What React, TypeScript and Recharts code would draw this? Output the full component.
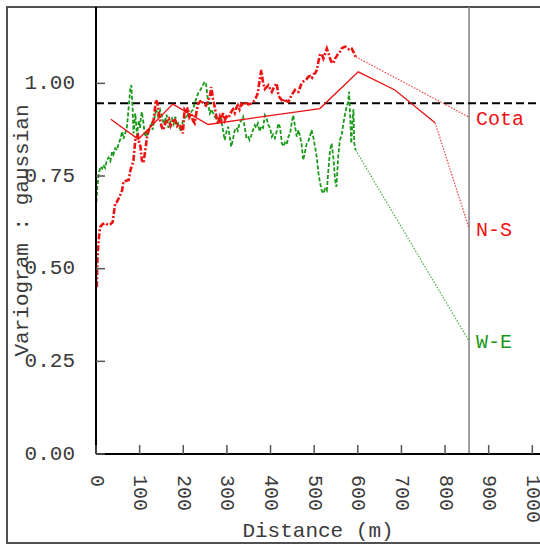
import React from "react";
import { LineChart, Line, XAxis, YAxis, ReferenceLine, Label } from "recharts";

// Experimental variogram of elevation ("Cota"): [distance m, gamma]
const cotaExperimental: [number, number][] = [
  [2, 0.45], [3, 0.52], [5, 0.56], [8, 0.6], [10, 0.613], [15, 0.62], [21, 0.623], [27, 0.618],
  [33, 0.62], [38, 0.625], [44, 0.677], [48, 0.68], [52, 0.69], [56, 0.7], [60, 0.712], [63, 0.735],
  [69, 0.737], [75, 0.739], [79, 0.766], [83, 0.78], [86, 0.793], [90, 0.847], [93, 0.855], [96, 0.86],
  [99, 0.84], [102, 0.829], [105, 0.793], [109, 0.785], [113, 0.82], [117, 0.856], [120, 0.87], [124, 0.883],
  [128, 0.89], [132, 0.9], [135, 0.93], [137, 0.955], [141, 0.947], [144, 0.92], [147, 0.9], [150, 0.885],
  [154, 0.874], [159, 0.893], [163, 0.9], [167, 0.905], [171, 0.885], [174, 0.892], [178, 0.905], [182, 0.9],
  [186, 0.885], [190, 0.89], [195, 0.882], [199, 0.865], [203, 0.928], [207, 0.92], [210, 0.935], [214, 0.91],
  [218, 0.92], [222, 0.9], [226, 0.893], [230, 0.92], [234, 0.946], [238, 0.95], [241, 0.955], [246, 0.945],
  [252, 0.94], [256, 0.95], [261, 0.964], [264, 0.99], [268, 0.96], [272, 0.937], [276, 0.91], [280, 0.892],
  [284, 0.91], [287, 0.9], [291, 0.92], [295, 0.9], [299, 0.91], [303, 0.906], [307, 0.915], [310, 0.923],
  [314, 0.93], [318, 0.92], [322, 0.935], [325, 0.941], [329, 0.93], [333, 0.945], [337, 0.94], [341, 0.946],
  [345, 0.95], [349, 0.943], [356, 0.946], [360, 0.95], [364, 0.955], [368, 0.965], [371, 0.974], [375, 1.009],
  [379, 1.036], [383, 1.0], [387, 0.985], [391, 0.99], [395, 0.995], [399, 0.985], [403, 0.977], [408, 0.99],
  [414, 1.0], [418, 0.968], [422, 0.96], [426, 0.955], [430, 0.95], [433, 0.958], [437, 0.952], [441, 0.95],
  [445, 0.96], [448, 0.968], [452, 0.975], [456, 0.982], [460, 0.978], [464, 0.977], [468, 0.99], [471, 1.0],
  [475, 1.005], [479, 1.009], [483, 1.012], [487, 1.018], [491, 1.02], [495, 1.015], [499, 1.025], [502, 1.027],
  [506, 1.036], [510, 1.06], [513, 1.076], [517, 1.08], [521, 1.067], [525, 1.08], [529, 1.094], [533, 1.08],
  [537, 1.065], [540, 1.058], [544, 1.054], [548, 1.067], [551, 1.072], [555, 1.08], [559, 1.085], [563, 1.094],
  [567, 1.097], [571, 1.099], [575, 1.095], [579, 1.092], [583, 1.096], [586, 1.094], [590, 1.085], [595, 1.072],
];
const cotaTail: [number, number][] = [[595, 1.072], [855, 0.909]];

// Directional variogram N-S
const nsExperimental: [number, number][] = [
  [34, 0.903], [97, 0.849], [176, 0.944], [257, 0.889], [513, 0.932], [601, 1.031], [685, 0.982], [777, 0.894],
];
const nsTail: [number, number][] = [[777, 0.894], [855, 0.609]];

// Directional variogram W-E
const weExperimental: [number, number][] = [
  [1, 0.68], [3, 0.72], [6, 0.752], [10, 0.775], [14, 0.77], [17, 0.78], [21, 0.772], [25, 0.793],
  [29, 0.8], [33, 0.79], [37, 0.815], [40, 0.808], [44, 0.825], [48, 0.82], [52, 0.838], [56, 0.85],
  [60, 0.87], [63, 0.85], [67, 0.865], [71, 0.883], [75, 0.937], [79, 0.99], [81, 0.995], [84, 0.93],
  [86, 0.865], [88, 0.89], [90, 0.919], [92, 0.89], [94, 0.86], [96, 0.88], [98, 0.9], [101, 0.88],
  [103, 0.91], [105, 0.923], [108, 0.9], [111, 0.87], [113, 0.856], [116, 0.87], [118, 0.86], [121, 0.875],
  [124, 0.883], [127, 0.89], [130, 0.875], [133, 0.9], [136, 0.919], [139, 0.925], [142, 0.912], [145, 0.92],
  [147, 0.928], [151, 0.91], [155, 0.892], [158, 0.9], [162, 0.915], [166, 0.88], [170, 0.895], [174, 0.905],
  [178, 0.89], [182, 0.91], [185, 0.885], [188, 0.892], [192, 0.878], [195, 0.87], [199, 0.9], [203, 0.91],
  [207, 0.905], [211, 0.919], [215, 0.91], [219, 0.925], [222, 0.928], [226, 0.946], [230, 0.96], [234, 0.973],
  [238, 0.98], [241, 0.986], [245, 0.995], [249, 1.004], [252, 1.0], [255, 0.97], [257, 0.946], [261, 0.919],
  [265, 0.93], [268, 0.92], [272, 0.91], [276, 0.905], [280, 0.897], [284, 0.91], [287, 0.905], [291, 0.874],
  [295, 0.847], [299, 0.87], [303, 0.883], [306, 0.86], [310, 0.829], [314, 0.85], [318, 0.874], [322, 0.88],
  [325, 0.872], [329, 0.892], [333, 0.9], [337, 0.91], [341, 0.88], [345, 0.852], [349, 0.855], [352, 0.847],
  [356, 0.86], [360, 0.875], [364, 0.887], [367, 0.88], [371, 0.892], [375, 0.87], [379, 0.885], [383, 0.88],
  [387, 0.914], [391, 0.905], [395, 0.887], [399, 0.88], [403, 0.856], [406, 0.862], [410, 0.852], [414, 0.87],
  [418, 0.892], [422, 0.88], [426, 0.838], [430, 0.83], [433, 0.84], [437, 0.835], [441, 0.856], [445, 0.865],
  [448, 0.89], [452, 0.914], [456, 0.885], [460, 0.856], [464, 0.874], [467, 0.86], [471, 0.838], [475, 0.793],
  [479, 0.815], [483, 0.838], [487, 0.845], [491, 0.86], [494, 0.874], [498, 0.855], [502, 0.829], [506, 0.8],
  [510, 0.757], [513, 0.735], [517, 0.712], [521, 0.703], [525, 0.715], [529, 0.71], [532, 0.757], [536, 0.815],
  [540, 0.838], [544, 0.8], [548, 0.739], [551, 0.721], [555, 0.8], [559, 0.847], [563, 0.86], [567, 0.892],
  [571, 0.919], [575, 0.94], [578, 0.95], [580, 0.977], [583, 0.9], [585, 0.838], [588, 0.9], [590, 0.93],
  [592, 0.838], [595, 0.82],
];
const weTail: [number, number][] = [[595, 0.82], [855, 0.305]];

const sill = 0.946;
const rangeDistance = 855;
const xTicks = [0, 100, 200, 300, 400, 500, 600, 700, 800, 900, 1000];
const yTicks = [0, 0.25, 0.5, 0.75, 1.0];
const xDomain: [number, number] = [0, 1017.6];
const yDomain: [number, number] = [0, 1.206];

const toRows = (pts: [number, number][]) => pts.map(([d, v]) => ({ d, v }));

const FONT = "'Liberation Mono', 'DejaVu Sans Mono', monospace";
const W = 540;
const H = 545;
const PLOT_LEFT = 96;
const PLOT_TOP = 7;
const PLOT_BOTTOM = 454;
const PLOT_RIGHT = 540;
const TEXT = "#3a3a3a";
const TICK = "#555";
const RED = "#ee1111";
const GREEN = "#1a9a1a";

const LeftTick = (props: any) => {
  const { y, payload } = props;
  return (
    <g>
      <line x1={PLOT_LEFT} x2={PLOT_LEFT + 9} y1={y} y2={y} stroke={TICK} strokeWidth={1.5} />
      <text x={75} y={y} textAnchor="end" dominantBaseline="central" fontFamily={FONT} fontSize={21} fill={TEXT}>
        {Number(payload.value).toFixed(2)}
      </text>
    </g>
  );
};

const RightTick = (props: any) => {
  const { y } = props;
  return <line x1={PLOT_RIGHT - 6} x2={PLOT_RIGHT} y1={y} y2={y} stroke={TICK} strokeWidth={1.5} />;
};

const BottomTick = (props: any) => {
  const { x, payload } = props;
  return (
    <g>
      <line x1={x} x2={x} y1={PLOT_BOTTOM} y2={PLOT_BOTTOM - 9} stroke={TICK} strokeWidth={1.5} />
      <text
        transform={`translate(${x},475) rotate(90)`}
        textAnchor="start"
        dominantBaseline="central"
        fontFamily={FONT}
        fontSize={20}
        fill={TEXT}
      >
        {payload.value}
      </text>
    </g>
  );
};

const TopTick = (props: any) => {
  const { x } = props;
  return <line x1={x} x2={x} y1={PLOT_TOP} y2={PLOT_TOP + 8} stroke={TICK} strokeWidth={1.5} />;
};

const endLabel = (text: string, color: string, count: number) => (props: any) => {
  const { x, y, index } = props;
  if (index !== count - 1) return null;
  return (
    <text x={x + 7} y={y + 2} dominantBaseline="central" fontFamily={FONT} fontSize={20} fill={color}>
      {text}
    </text>
  );
};

export default function App() {
  return (
    <div style={{ position: "absolute", left: 0, top: 0, width: W, height: H, overflow: "hidden", background: "#fff" }}>
      <div
        style={{
          position: "absolute",
          left: 6,
          top: 6,
          width: 600,
          height: 538,
          border: "2px solid #505050",
          boxSizing: "border-box",
        }}
      />
      <div style={{ position: "absolute", left: 0, top: 0 }}>
        <LineChart width={W} height={H} margin={{ top: PLOT_TOP, right: 0, bottom: 0, left: 6 }}>
          <XAxis
            dataKey="d"
            type="number"
            domain={xDomain}
            ticks={xTicks}
            allowDataOverflow
            height={H - PLOT_BOTTOM}
            axisLine={{ stroke: "#000", strokeWidth: 2 }}
            tickLine={false}
            tick={<BottomTick />}
            interval={0}
          >
            <Label
              content={() => (
                <text
                  x={(PLOT_LEFT + PLOT_RIGHT) / 2}
                  y={531}
                  textAnchor="middle"
                  dominantBaseline="central"
                  fontFamily={FONT}
                  fontSize={21}
                  fill={TEXT}
                >
                  Distance (m)
                </text>
              )}
            />
          </XAxis>
          <XAxis
            xAxisId="top"
            orientation="top"
            dataKey="d"
            type="number"
            domain={xDomain}
            ticks={xTicks}
            allowDataOverflow
            height={0}
            axisLine={{ stroke: "#000", strokeWidth: 2 }}
            tickLine={false}
            tick={<TopTick />}
            interval={0}
          >
            <Label
              content={() => (
                <text
                  x={(PLOT_LEFT + PLOT_RIGHT) / 2}
                  y={21}
                  textAnchor="middle"
                  dominantBaseline="central"
                  fontFamily={FONT}
                  fontSize={21}
                  fill={TEXT}
                >
                  Distance (m)
                </text>
              )}
            />
          </XAxis>
          <YAxis
            type="number"
            domain={yDomain}
            ticks={yTicks}
            allowDataOverflow
            width={90}
            axisLine={{ stroke: "#000", strokeWidth: 2 }}
            tickLine={false}
            tick={<LeftTick />}
            interval={0}
          >
            <Label
              content={() => (
                <text
                  transform={`translate(22,${(PLOT_TOP + PLOT_BOTTOM) / 2}) rotate(-90)`}
                  textAnchor="middle"
                  dominantBaseline="central"
                  fontFamily={FONT}
                  fontSize={21}
                  fill={TEXT}
                >
                  Variogram : gaussian
                </text>
              )}
            />
          </YAxis>
          <YAxis
            yAxisId="r"
            orientation="right"
            type="number"
            domain={yDomain}
            ticks={yTicks}
            allowDataOverflow
            width={0}
            axisLine={false}
            tickLine={false}
            tick={<RightTick />}
            interval={0}
          >
            <Label
              content={() => (
                <text
                  transform={`translate(529,${(PLOT_TOP + PLOT_BOTTOM) / 2 - 1}) rotate(90)`}
                  textAnchor="middle"
                  dominantBaseline="central"
                  fontFamily={FONT}
                  fontSize={21}
                  fill={TEXT}
                >
                  Variogram : gaussian
                </text>
              )}
            />
          </YAxis>

          <ReferenceLine x={rangeDistance} stroke="#808080" strokeWidth={1.5} />
          <ReferenceLine y={sill} stroke="#000" strokeWidth={2} strokeDasharray="8 4" />

          <Line
            data={toRows(weExperimental)}
            dataKey="v"
            stroke={GREEN}
            strokeWidth={1.8}
            strokeDasharray="4 2"
            dot={false}
            activeDot={false}
            isAnimationActive={false}
          />
          <Line
            data={toRows(weTail)}
            dataKey="v"
            stroke={GREEN}
            strokeWidth={1.2}
            strokeDasharray="1.5 1.5"
            strokeOpacity={0.8}
            dot={false}
            activeDot={false}
            isAnimationActive={false}
            label={endLabel("W-E", GREEN, weTail.length)}
          />
          <Line
            data={toRows(cotaExperimental)}
            dataKey="v"
            stroke={RED}
            strokeWidth={2.6}
            strokeDasharray="6 2 2 2"
            dot={false}
            activeDot={false}
            isAnimationActive={false}
          />
          <Line
            data={toRows(cotaTail)}
            dataKey="v"
            stroke={RED}
            strokeWidth={1.2}
            strokeDasharray="1.5 1.5"
            strokeOpacity={0.8}
            dot={false}
            activeDot={false}
            isAnimationActive={false}
            label={endLabel("Cota", RED, cotaTail.length)}
          />
          <Line
            data={toRows(nsExperimental)}
            dataKey="v"
            stroke={RED}
            strokeWidth={1.3}
            dot={false}
            activeDot={false}
            isAnimationActive={false}
          />
          <Line
            data={toRows(nsTail)}
            dataKey="v"
            stroke={RED}
            strokeWidth={1.2}
            strokeDasharray="1.5 1.5"
            strokeOpacity={0.8}
            dot={false}
            activeDot={false}
            isAnimationActive={false}
            label={endLabel("N-S", RED, nsTail.length)}
          />
        </LineChart>
      </div>
    </div>
  );
}
